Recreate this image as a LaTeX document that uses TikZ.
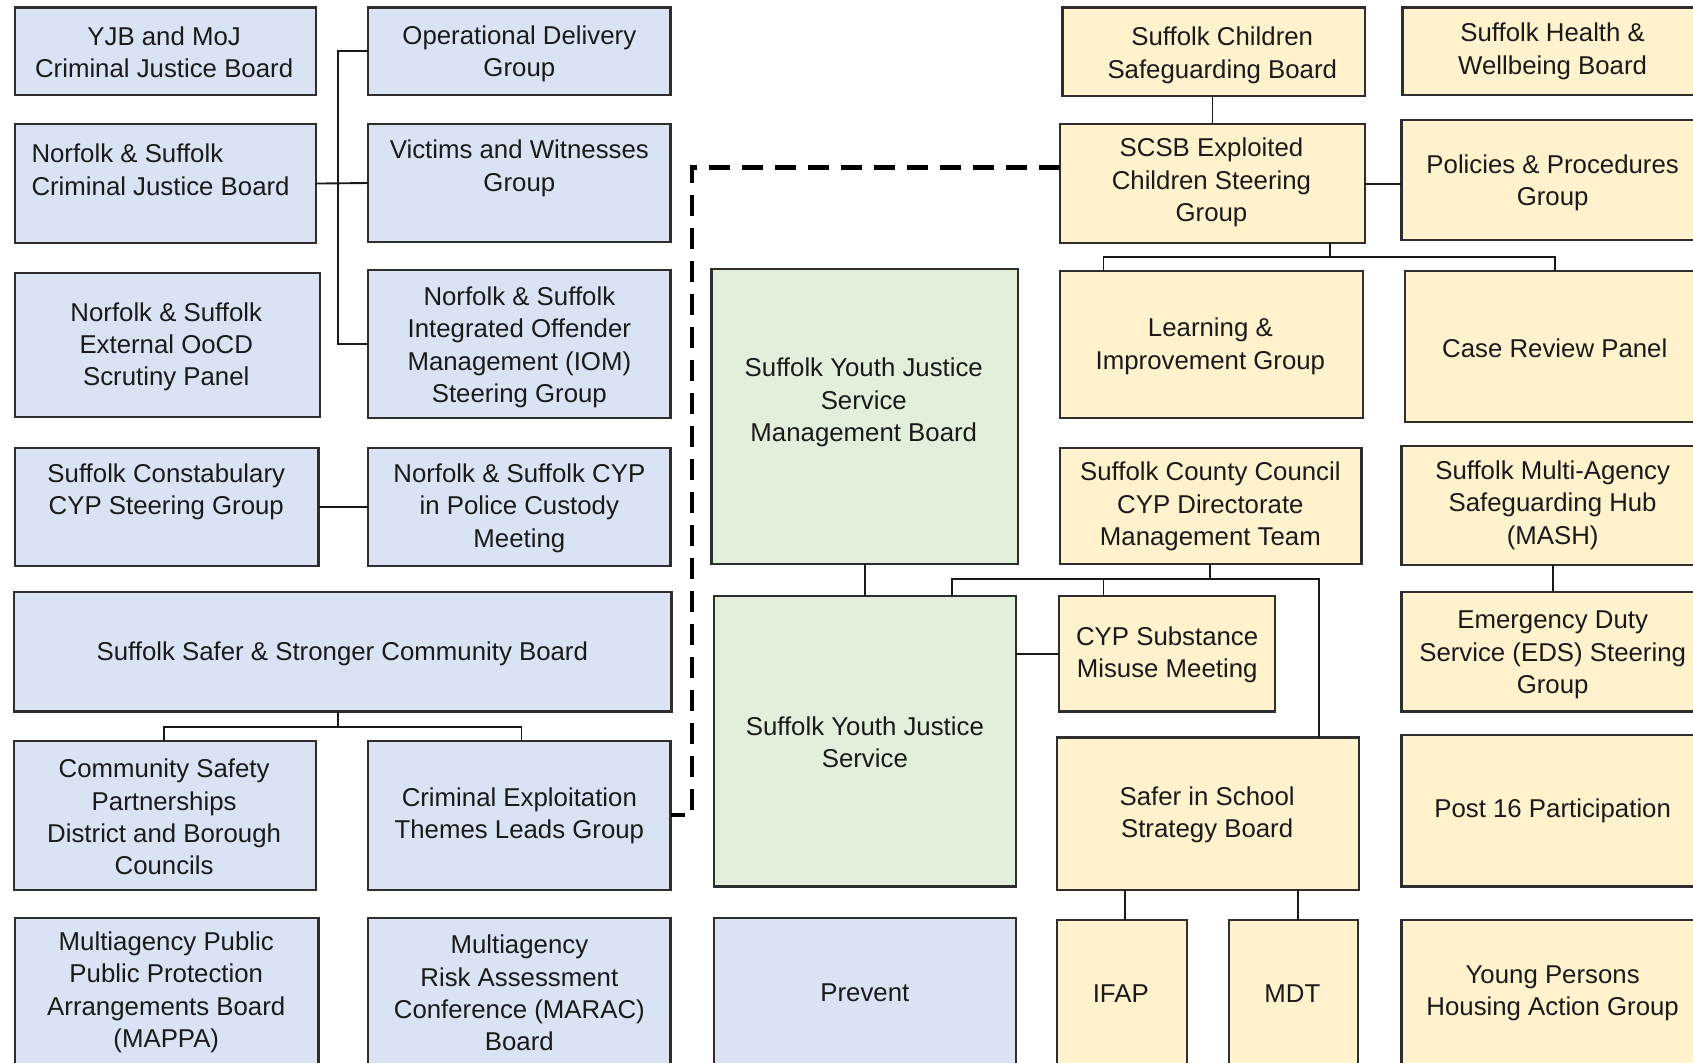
\documentclass[tikz,border=0pt]{standalone}
\usepackage{fontspec}
\setmainfont{Liberation Sans}
\usetikzlibrary{fit}
\definecolor{blueF}{HTML}{DAE3F3}
\definecolor{orangeF}{HTML}{FFF2CC}
\definecolor{greenF}{HTML}{E2EFDA}
\definecolor{edge}{HTML}{2E2E2E}
\definecolor{ink}{HTML}{1A1A1A}
\tikzset{
  box/.style={draw=edge, line width=2.2pt, inner sep=0pt, outer sep=0pt},
  bbox/.style={box, fill=blueF},
  obox/.style={box, fill=orangeF},
  gbox/.style={box, fill=greenF},
  txt/.style={align=center, inner sep=0pt, yshift=-2.4pt, text=ink, font=\fontsize{25.8}{32.4}\selectfont},
  conn/.style={draw=black!90, line width=1.9pt},
  dashline/.style={draw=black, line width=4.5pt, dash pattern=on 21pt off 12pt}
}
\begin{document}
\begin{tikzpicture}[x=1.0797pt, y=-1.0797pt]
\useasboundingbox[fill=white] (0,0) rectangle (1568,984);
\clip (0,0) rectangle (1568,984);
% left column
\node[bbox, fit={(14,7)(293,88)}] (yjb) {};
\node[txt] (tyjb) at (152,46) {YJB and MoJ\\Criminal Justice Board};
\node[bbox, fit={(14,115)(293,225)}] (cjb) {};
\node[txt, align=left, anchor=west] (tcjb) at (29,155) {Norfolk \& Suffolk\\Criminal Justice Board};
\node[bbox, fit={(14,253)(296,386)}] (oocd) {};
\node[txt] (toocd) at (154,319) {Norfolk \& Suffolk\\External OoCD\\Scrutiny Panel};
\node[bbox, fit={(14,415)(295,524)}] (con) {};
\node[txt] (tcon) at (154,453.5) {Suffolk Constabulary\\CYP Steering Group};
\node[bbox, fit={(13,548)(622,659)}] (ssc) {};
\node[txt] (tssc) at (317,603.5) {Suffolk Safer \& Stronger Community Board};
\node[bbox, fit={(13,686)(293,824)}] (cs) {};
\node[txt] (tcs) at (152,754.5) {Community Safety\\Partnerships\\District and Borough\\Councils};
\node[bbox, fit={(14,850)(295,1000)}] (mappa) {};
\node[txt] (tmappa) at (154,917) {Multiagency Public\\Public Protection\\Arrangements Board\\(MAPPA)};
% second column
\node[bbox, fit={(341,7)(621,88)}] (opd) {};
\node[txt] (topd) at (481,47.5) {Operational Delivery\\Group};
\node[bbox, fit={(341,115)(621,224)}] (vic) {};
\node[txt] (tvic) at (481,153.5) {Victims and Witnesses\\Group};
\node[bbox, fit={(341,250)(621,387)}] (iom) {};
\node[txt] (tiom) at (481,319.5) {Norfolk \& Suffolk\\Integrated Offender\\Management (IOM)\\Steering Group};
\node[bbox, fit={(341,415)(621,524)}] (cust) {};
\node[txt] (tcust) at (481,468.5) {Norfolk \& Suffolk CYP\\in Police Custody\\Meeting};
\node[bbox, fit={(341,686)(621,824)}] (cel) {};
\node[txt] (tcel) at (481,753.5) {Criminal Exploitation\\Themes Leads Group};
\node[bbox, fit={(341,850)(621,1000)}] (marac) {};
\node[txt] (tmarac) at (481,917.5) {Multiagency\\Risk Assessment\\Conference (MARAC)\\Board};
% centre column
\node[gbox, fit={(659,249)(943,522)}] (mb) {};
\node[txt] (tmb) at (800,370.5) {Suffolk Youth Justice\\Service\\Management Board};
\node[gbox, fit={(661,552)(941,821)}] (yjs) {};
\node[txt] (tyjs) at (801,685.5) {Suffolk Youth Justice\\Service};
\node[bbox, fit={(661,850)(941,1000)}] (prev) {};
\node[txt] (tprev) at (801,917) {Prevent};
% fourth column
\node[obox, fit={(984,7)(1264,89)}] (scb) {};
\node[txt] (tscb) at (1132,49) {Suffolk Children\\Safeguarding Board};
\node[obox, fit={(982,115)(1264,225)}] (scsb) {};
\node[txt] (tscsb) at (1122,167) {SCSB Exploited\\Children Steering\\Group};
\node[obox, fit={(982,251)(1262,387)}] (lig) {};
\node[txt] (tlig) at (1121,318.5) {Learning \&\\Improvement Group};
\node[obox, fit={(982,415)(1261,522)}] (scc) {};
\node[txt] (tscc) at (1121,467) {Suffolk County Council\\CYP Directorate\\Management Team};
\node[obox, fit={(981,552)(1181,659)}] (cyps) {};
\node[txt] (tcyps) at (1081,604.5) {CYP Substance\\Misuse Meeting};
\node[obox, fit={(979,683)(1259,824)}] (sis) {};
\node[txt] (tsis) at (1118,752.5) {Safer in School\\Strategy Board};
\node[obox, fit={(979,852)(1099,1000)}] (ifap) {};
\node[txt] (tifap) at (1038,918) {IFAP};
\node[obox, fit={(1138,852)(1258,1000)}] (mdt) {};
\node[txt] (tmdt) at (1197,918) {MDT};
% right column
\node[obox, fit={(1299,7)(1579,88)}] (hwb) {};
\node[txt] (thwb) at (1438,45.5) {Suffolk Health \&\\Wellbeing Board};
\node[obox, fit={(1298,111)(1578,222)}] (pol) {};
\node[txt] (tpol) at (1438,167) {Policies \& Procedures\\Group};
\node[obox, fit={(1301,251)(1581,391)}] (crp) {};
\node[txt] (tcrp) at (1440,320) {Case Review Panel};
\node[obox, fit={(1298,413)(1578,523)}] (mash) {};
\node[txt] (tmash) at (1438,465.5) {Suffolk Multi-Agency\\Safeguarding Hub\\(MASH)};
\node[obox, fit={(1298,548)(1578,659)}] (eds) {};
\node[txt] (teds) at (1438,604.5) {Emergency Duty\\Service (EDS) Steering\\Group};
\node[obox, fit={(1298,681)(1578,821)}] (p16) {};
\node[txt] (tp16) at (1438,749) {Post 16 Participation};
\node[obox, fit={(1298,852)(1578,1000)}] (yph) {};
\node[txt] (typh) at (1438,918) {Young Persons\\Housing Action Group};
% connectors, left
\coordinate (b1) at (313,0);
\draw[conn] (cjb.east) -- (vic.west);
\draw[conn] (opd.west) -- (b1 |- opd.west) -- (b1 |- iom.west) -- (iom.west);
\draw[conn] (con.east) -- (cust.west);
\coordinate (j1) at (313,673);
\coordinate (j1l) at (152,673);
\coordinate (j1r) at (483,673);
\draw[conn] (ssc.south -| j1) -- (j1);
\draw[conn] (cs.north -| j1l) -- (j1l) -- (j1r) -- (cel.north -| j1r);
% dashed link
\coordinate (d1) at (641,155);
\coordinate (d2) at (641,755);
\draw[dashline] (scsb.west |- d1) -- (d1) -- (d2) -- (cel.east |- d2);
% centre
\draw[conn] (mb.south) -- (yjs.north);
% right side
\draw[conn] (scb.south -| scsb.north) -- (scsb.north);
\draw[conn] (scsb.east) -- (pol.west |- scsb.east);
\coordinate (j2) at (1232,238);
\coordinate (j2l) at (1022,238);
\coordinate (j2r) at (1440,238);
\draw[conn] (scsb.south -| j2) -- (j2);
\draw[conn] (lig.north -| j2l) -- (j2l) -- (j2r) -- (crp.north -| j2r);
\coordinate (j3) at (1121,536);
\coordinate (j3l) at (882,536);
\coordinate (j3m) at (1022,536);
\coordinate (j3r) at (1222,536);
\draw[conn] (scc.south -| j3) -- (j3);
\draw[conn] (yjs.north -| j3l) -- (j3l) -- (j3r) -- (sis.north -| j3r);
\draw[conn] (j3m) -- (cyps.north -| j3m);
\draw[conn] (yjs.east |- cyps.west) -- (cyps.west);
\draw[conn] (mash.south) -- (eds.north);
\coordinate (k1) at (1042,0);
\coordinate (k2) at (1202,0);
\draw[conn] (sis.south -| k1) -- (ifap.north -| k1);
\draw[conn] (sis.south -| k2) -- (mdt.north -| k2);
\end{tikzpicture}
\end{document}
